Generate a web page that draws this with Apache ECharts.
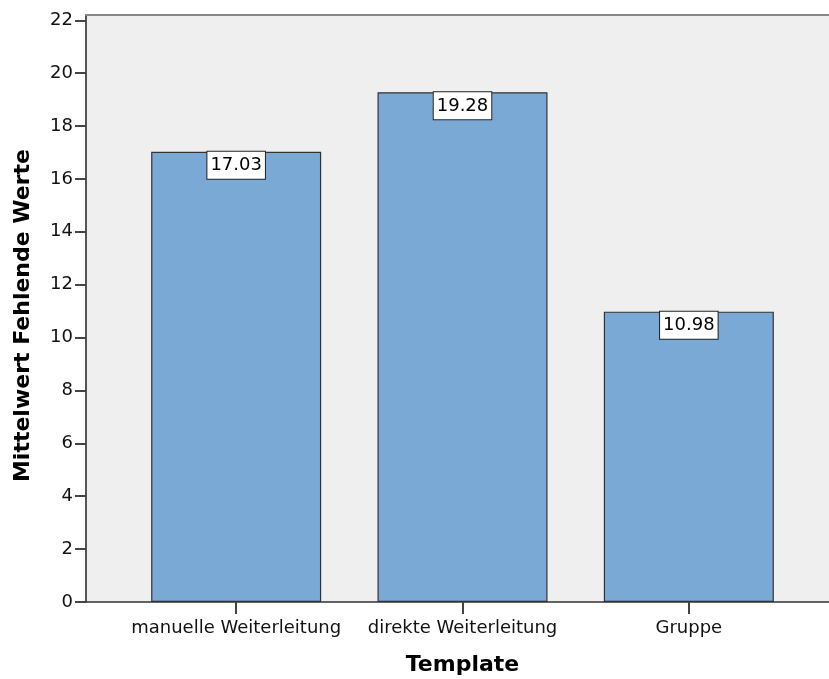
<!DOCTYPE html>
<html>
<head>
<meta charset="utf-8">
<script src="https://cdn.jsdelivr.net/npm/echarts@6/dist/echarts.min.js"></script>
<style>
  html, body { margin: 0; padding: 0; background: #fff; }
  #chart { width: 829px; height: 679px; }
</style>
</head>
<body>
<div id="chart"></div>
<script>
const categories = ['manuelle Weiterleitung', 'direkte Weiterleitung', 'Gruppe'];
const meanValues = [17.03, 19.28, 10.98];
const yTicks = [0, 2, 4, 6, 8, 10, 12, 14, 16, 18, 20, 22];

const font = 'DejaVu Sans';
const chart = echarts.init(document.getElementById('chart'));

chart.setOption({
  animation: false,
  grid: [
    // bars grid
    { left: 123, right: 27, top: 15, bottom: 77, show: false, outerBoundsMode: 'none', containLabel: false },
    // background / frame grid
    { left: 86, right: 0, top: 15, bottom: 77, show: true, backgroundColor: '#efefef', borderWidth: 0, borderColor: 'transparent', z: -1, outerBoundsMode: 'none', containLabel: false }
  ],
  xAxis: [
    {
      type: 'category',
      gridIndex: 0,
      data: categories,
      name: 'Template',
      nameLocation: 'middle',
      nameGap: 52,
      nameTextStyle: { fontFamily: font, fontSize: 22, fontWeight: 'bold', color: '#000' },
      axisLine: { show: false },
      axisTick: { show: true, alignWithLabel: true, length: 12, lineStyle: { color: '#444', width: 2 } },
      axisLabel: { fontFamily: font, fontSize: 18, color: '#111', margin: 17, interval: 0 },
      splitLine: { show: false }
    },
    {
      type: 'value',
      gridIndex: 1,
      min: 0, max: 1,
      axisLine: { show: true, lineStyle: { color: '#333', width: 1.5 } },
      axisTick: { show: false },
      axisLabel: { show: false },
      splitLine: { show: false }
    },
    {
      type: 'value',
      gridIndex: 1,
      position: 'top',
      min: 0, max: 1,
      axisLine: { show: true, lineStyle: { color: '#888', width: 2 } },
      axisTick: { show: false },
      axisLabel: { show: false },
      splitLine: { show: false }
    }
  ],
  yAxis: [
    {
      type: 'value',
      gridIndex: 0,
      min: yTicks[0],
      max: 22.2,
      interval: 2,
      offset: 37,
      name: 'Mittelwert Fehlende Werte',
      nameLocation: 'middle',
      nameGap: 52,
      nameTextStyle: { fontFamily: font, fontSize: 22, fontWeight: 'bold', color: '#000', padding: [0, 14, 0, 0] },
      axisLine: { show: true, lineStyle: { color: '#555', width: 2 } },
      axisTick: { show: true, length: 11, lineStyle: { color: '#444', width: 2 } },
      axisLabel: {
        fontFamily: font, fontSize: 18, color: '#111', margin: 13,
        showMaxLabel: false,
        formatter: v => (yTicks.includes(v) ? String(v) : '')
      },
      splitLine: { show: false }
    },
    {
      type: 'value',
      gridIndex: 1,
      show: false,
      min: 0, max: 1
    }
  ],
  series: [
    {
      type: 'bar',
      xAxisIndex: 0,
      yAxisIndex: 0,
      data: meanValues,
      barWidth: 170,
      itemStyle: { color: '#7aa9d6', borderColor: '#333', borderWidth: 1.2 },
      label: {
        show: true,
        position: 'insideTop',
        distance: 0,
        formatter: p => p.value.toFixed(2),
        fontFamily: font,
        fontSize: 18,
        color: '#000',
        backgroundColor: '#fff',
        borderColor: '#222',
        borderWidth: 1,
        padding: [5, 3, 4, 3]
      }
    }
  ]
});
</script>
</body>
</html>
